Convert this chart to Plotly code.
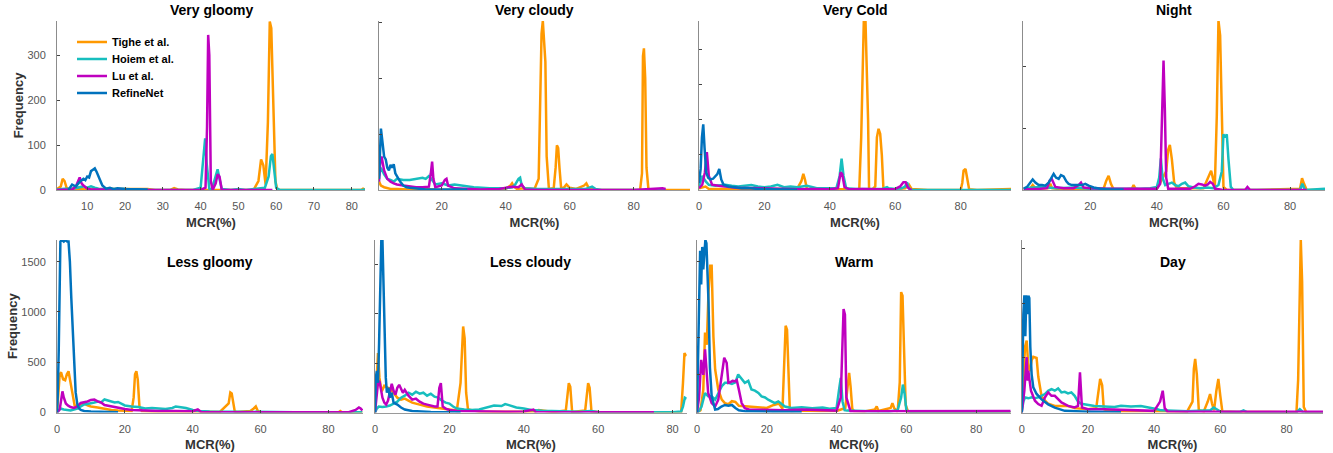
import plotly.graph_objects as go

W, H = 1333, 453

# ---------------- data (MCR %, frequency) ----------------
METHODS = ["Tighe et al.", "Hoiem et al.", "Lu et al.", "RefineNet"]
COLORS = ["#FF9900", "#17BEBE", "#BF00BF", "#0072BD"]
TITLES = ["Very gloomy", "Very cloudy", "Very Cold", "Night",
          "Less gloomy", "Less cloudy", "Warm", "Day"]

# Very gloomy
vg_tighe_x = [2, 3, 3.5, 4, 4.5, 5, 7, 10, 15, 20, 22, 26, 28, 32, 33, 34, 36, 54, 55.3, 56, 56.6, 57.2, 57.8, 58.3, 58.7, 59.2, 59.8, 60.3, 62, 82.5, 83, 83.5]
vg_tighe_y = [2, 8, 25, 20, 6, 2, 3, 1, 2, 2, 3, 2, 0, 0, 4, 1, 0, 0, 20, 68, 55, 12, 150, 375, 360, 180, 20, 0, 0, 0, 3, 1]
vg_hoiem_x = [2, 4, 6, 8, 9, 10, 11, 12, 13, 15, 18, 20, 26, 38, 40, 40.7, 41.2, 41.6, 42.3, 43, 44, 44.5, 45, 45.6, 48, 50, 52, 55, 57, 58, 58.6, 59, 59.5, 60, 61, 83, 83.5]
vg_hoiem_y = [1, 3, 3, 6, 8, 5, 8, 5, 3, 2, 2, 2, 0, 0, 5, 60, 115, 60, 3, 2, 30, 46, 25, 2, 0, 2, 0, 2, 5, 30, 75, 80, 40, 5, 0, 0, 2]
vg_lu_x = [2, 6, 7, 7.5, 8, 8.5, 9, 10, 11, 15, 20, 30, 40, 41.3, 41.7, 42, 42.3, 42.7, 43.2, 44, 44.5, 45, 45.6, 50, 59]
vg_lu_y = [0, 1, 8, 20, 28, 15, 10, 3, 1, 1, 0, 0, 0, 5, 140, 345, 300, 20, 0, 15, 35, 30, 0, 0, 0]
vg_refine_x = [5, 6, 6.5, 7, 8, 9, 9.5, 10, 10.5, 11, 11.5, 12, 12.5, 13, 13.5, 14, 15, 16, 17, 18, 20, 22, 24, 26]
vg_refine_y = [0, 12, 10, 8, 18, 25, 22, 30, 28, 42, 45, 48, 40, 30, 18, 10, 3, 5, 2, 4, 2, 2, 1, 1]

# Very cloudy
vc_tighe_x = [0.4, 1, 2, 3, 4, 6, 10, 15, 20, 30, 40, 41.5, 42, 42.6, 43.5, 46, 49, 50.3, 50.8, 51.2, 51.6, 52, 52.4, 52.8, 53.5, 55, 55.6, 56, 56.4, 56.8, 57.3, 58, 59, 60, 62, 64.5, 65.2, 66, 68, 82, 82.6, 82.9, 83.2, 83.6, 84, 84.6, 86, 97.6]
vc_tighe_y = [15, 8, 5, 3, 2, 2, 1, 2, 0, 1, 2, 8, 12, 6, 2, 3, 2, 20, 150, 280, 303, 260, 230, 60, 2, 3, 40, 80, 75, 40, 5, 3, 10, 4, 2, 8, 12, 3, 0, 0, 30, 240, 254, 200, 40, 2, 0, 0]
vc_hoiem_x = [0.4, 1, 2, 3, 4, 5, 6, 8, 10, 12, 14, 15, 16, 17, 18, 20, 22, 24, 26, 28, 30, 35, 40, 42, 43, 44, 44.5, 45, 46, 50, 55, 60, 65, 67, 68, 70, 90]
vc_hoiem_y = [25, 40, 28, 20, 18, 15, 20, 18, 18, 20, 22, 20, 25, 18, 10, 12, 8, 10, 8, 6, 5, 3, 3, 5, 10, 20, 22, 8, 3, 2, 2, 3, 2, 6, 2, 0, 0]
vc_lu_x = [0.4, 0.8, 1.2, 2, 3, 4, 5, 6, 8, 10, 12, 14, 16, 16.6, 17, 17.4, 18, 20, 21, 21.5, 22, 24, 28, 32, 38, 40, 42, 44, 45, 46, 50, 60, 70, 80, 89, 90]
vc_lu_y = [15, 50, 60, 35, 20, 15, 12, 10, 8, 6, 5, 5, 6, 30, 51, 20, 5, 8, 18, 20, 8, 3, 2, 1, 2, 4, 6, 5, 10, 1, 0, 0, 0, 0, 3, 2]
vc_refine_x = [0.4, 0.7, 1, 1.3, 1.7, 2, 2.5, 3, 3.5, 4, 4.5, 5, 5.5, 6, 7, 8, 9, 10, 12, 15, 20, 28]
vc_refine_y = [20, 80, 110, 95, 70, 60, 55, 40, 35, 45, 40, 46, 30, 25, 15, 8, 5, 4, 3, 1, 1, 1]

# Very Cold
vco_tighe_x = [0, 1, 2, 3, 5, 10, 20, 30, 31.3, 31.9, 32.4, 33, 35, 40, 49, 49.6, 50, 50.4, 50.9, 51.4, 51.7, 52, 53, 53.9, 54.4, 54.9, 55.4, 55.9, 56.4, 60, 63, 64.2, 65, 70, 80, 80.5, 80.9, 81.5, 82, 82.6, 85, 95.4]
vco_tighe_y = [5, 8, 10, 3, 3, 2, 2, 3, 25, 46, 30, 3, 2, 2, 2, 150, 300, 484, 484, 312, 200, 3, 2, 10, 150, 174, 160, 100, 3, 2, 5, 15, 3, 0, 0, 20, 55, 60, 30, 2, 0, 3]
vco_hoiem_x = [0, 1, 2, 3, 5, 8, 10, 12, 14, 16, 18, 20, 22, 24, 26, 28, 30, 33, 36, 40, 42, 43, 43.6, 44.2, 45, 48, 52, 56, 57.5, 58, 60, 62, 63, 63.6, 64.2, 65, 95.4]
vco_hoiem_y = [10, 40, 25, 15, 12, 15, 12, 10, 12, 14, 10, 8, 10, 15, 8, 10, 8, 12, 5, 4, 5, 40, 89, 40, 5, 3, 3, 3, 8, 5, 3, 5, 10, 22, 5, 0, 0]
vco_lu_x = [0, 1, 1.8, 2.4, 3, 4, 6, 8, 10, 12, 15, 18, 20, 25, 30, 35, 40, 42.5, 43.3, 43.8, 44.5, 46, 50, 55, 60, 61.5, 62.5, 63.2, 63.8, 64.5, 65]
vco_lu_y = [5, 15, 50, 108, 40, 15, 12, 10, 8, 6, 6, 5, 4, 4, 2, 3, 2, 5, 50, 45, 8, 2, 3, 2, 3, 10, 22, 22, 8, 2, 0]
vco_refine_x = [0, 0.5, 0.9, 1.3, 1.7, 2.2, 2.8, 3.5, 4.3, 5, 5.6, 6.2, 6.8, 7.5, 9, 11, 13, 15, 18, 22, 26, 30]
vco_refine_y = [20, 60, 150, 187, 120, 50, 35, 30, 32, 38, 45, 60, 30, 15, 10, 8, 5, 6, 3, 2, 2, 1]

# Night
n_tighe_x = [0, 2, 2.7, 3.5, 5, 7.5, 8, 8.5, 10, 15, 20, 24, 24.8, 25.5, 26.2, 27, 30, 32.5, 33, 33.6, 35, 40, 42.8, 43.4, 43.9, 44.5, 45.2, 46, 50, 54, 55.8, 56.3, 56.8, 57.4, 58, 58.5, 59, 59.5, 60, 61, 70, 83, 83.6, 84.2, 85, 90.5]
n_tighe_y = [2, 3, 8, 3, 2, 3, 10, 3, 2, 2, 1, 2, 15, 23, 10, 1, 1, 2, 8, 2, 1, 2, 30, 65, 73, 50, 12, 3, 3, 3, 25, 31, 20, 5, 120, 274, 250, 100, 5, 0, 0, 2, 19, 10, 0, 0]
n_hoiem_x = [0, 2, 5, 10, 15, 20, 25, 30, 35, 38, 40, 40.7, 41.2, 41.7, 42.5, 43.5, 44.5, 45.5, 46.5, 47.5, 48.5, 49.5, 51, 53, 55, 57, 58.5, 59.5, 60, 60.5, 61, 61.5, 62.2, 63, 70, 83, 83.7, 84.5, 90.5]
n_hoiem_y = [3, 4, 5, 3, 4, 2, 2, 1, 2, 3, 5, 20, 51, 20, 8, 10, 12, 8, 6, 10, 12, 6, 4, 3, 4, 3, 8, 30, 90, 85, 90, 50, 5, 0, 0, 0, 10, 0, 2]
n_lu_x = [0, 3, 5, 7, 7.8, 8.5, 9.5, 12, 15, 16.5, 17.2, 18, 20, 25, 30, 35, 40, 41, 41.6, 42, 42.4, 42.8, 43.4, 45, 48, 50, 51.5, 52.5, 53.5, 54.5, 55.3, 56, 56.8, 57.5, 60, 66.5, 67.2, 68, 75, 85]
n_lu_y = [1, 1, 2, 3, 15, 17, 5, 3, 3, 8, 12, 4, 3, 2, 2, 1, 2, 10, 120, 209, 130, 20, 2, 2, 1, 2, 6, 10, 9, 7, 9, 13, 10, 2, 0, 0, 5, 0, 0, 0]
n_refine_x = [0, 1, 2, 2.7, 3.5, 4.5, 5.5, 6.5, 7.5, 8.3, 9, 9.7, 10.5, 11.2, 12, 12.8, 13.5, 14.5, 15.5, 16.5, 17.5, 18.5, 19.5, 21, 23, 26, 30]
n_refine_y = [2, 5, 12, 17, 12, 8, 8, 7, 12, 20, 26, 20, 18, 24, 22, 14, 10, 8, 8, 9, 8, 10, 7, 4, 2, 1, 1]

# Less gloomy
lg_tighe_x = [0, 0.4, 0.8, 1.2, 1.8, 2.4, 2.9, 3.4, 3.9, 4.5, 5.2, 6, 7, 8, 9, 10, 12, 14, 16, 18, 20, 22, 22.6, 23, 23.4, 23.8, 24.3, 25, 28, 32, 36, 40, 44, 48, 50.6, 51.1, 51.5, 51.9, 52.4, 53, 56, 57, 58, 58.6, 59.2, 60, 65, 75, 83, 83.5, 84, 90]
lg_tighe_y = [0, 150, 380, 400, 330, 320, 380, 410, 330, 200, 70, 60, 80, 90, 70, 60, 50, 35, 25, 20, 20, 15, 150, 380, 410, 330, 60, 15, 10, 12, 8, 10, 8, 5, 90, 200, 190, 100, 10, 5, 10, 15, 40, 60, 15, 5, 3, 2, 3, 15, 2, 2]
lg_hoiem_x = [0, 0.5, 1, 2, 3, 4, 5, 6, 7, 8, 9, 10, 11, 12, 13, 14, 15, 16, 17, 18, 19, 20, 22, 24, 26, 28, 30, 32, 34, 35, 36, 38, 40, 42, 45, 50, 55, 60, 70, 80, 90]
lg_hoiem_y = [0, 20, 40, 30, 25, 20, 30, 40, 60, 80, 85, 90, 100, 110, 100, 130, 120, 110, 100, 105, 90, 70, 60, 55, 40, 45, 40, 35, 45, 60, 55, 45, 25, 15, 10, 8, 5, 4, 3, 2, 2]
lg_lu_x = [0, 0.8, 1.2, 1.6, 2, 2.6, 3.2, 4, 5, 6, 7, 8, 9, 10, 11, 12, 13, 14, 16, 18, 20, 22, 25, 28, 30, 35, 40, 41.5, 42, 42.5, 45, 50, 60, 70, 80, 86, 88, 89, 89.5, 90]
lg_lu_y = [0, 30, 120, 210, 150, 90, 70, 55, 45, 60, 95, 100, 110, 125, 130, 110, 100, 75, 60, 45, 35, 25, 20, 18, 15, 15, 12, 30, 20, 5, 3, 3, 2, 2, 3, 3, 25, 50, 40, 20]
lg_refine_x = [0, 0.2, 0.5, 0.8, 1.0, 1.5, 2, 2.5, 3, 3.4, 3.8, 4.2, 4.6, 5, 5.5, 6, 6.5, 7, 8, 10, 12, 15, 18]
lg_refine_y = [0, 150, 600, 1200, 1700, 1716, 1700, 1716, 1700, 1700, 1500, 1150, 800, 450, 200, 80, 40, 25, 15, 10, 8, 5, 3]

# Less cloudy
lc_tighe_x = [0, 0.3, 0.8, 1.2, 1.6, 2, 2.5, 3, 3.5, 4, 5, 6, 7, 8, 9, 10, 12, 14, 16, 18, 20, 22, 23, 23.4, 23.7, 24.1, 24.5, 25, 28, 32, 36, 40, 43, 44, 48, 51.3, 51.7, 52.1, 52.5, 53, 56.5, 56.9, 57.3, 57.7, 58.2, 60, 65, 70, 82.3, 82.8, 83.2, 83.5, 83.8]
lc_tighe_y = [0, 300, 600, 350, 250, 230, 270, 260, 250, 240, 200, 150, 130, 140, 120, 100, 80, 60, 50, 40, 30, 20, 300, 700, 870, 750, 200, 30, 10, 8, 10, 10, 10, 25, 5, 20, 200, 296, 260, 5, 20, 200, 296, 250, 10, 5, 3, 2, 3, 300, 600, 580, 590]
lc_hoiem_x = [0, 0.5, 1, 2, 3, 4, 5, 6, 7, 8, 9, 10, 11, 12, 13, 14, 15, 16, 17, 18, 19, 20, 21, 22, 24, 26, 28, 30, 32, 34, 35, 36, 38, 40, 42, 45, 50, 55, 58, 60, 62, 70, 80, 82.3, 82.8, 83.3, 83.8]
lc_hoiem_y = [0, 40, 60, 55, 60, 70, 90, 110, 150, 170, 200, 180, 210, 190, 200, 170, 190, 160, 150, 120, 100, 90, 60, 40, 30, 25, 30, 50, 70, 65, 85, 75, 50, 40, 25, 18, 12, 8, 15, 5, 3, 2, 2, 10, 60, 150, 140]
lc_lu_x = [0, 0.4, 0.8, 1.2, 1.6, 2, 2.5, 3, 3.5, 4, 4.5, 5, 5.5, 6, 6.5, 7, 7.5, 8, 9, 10, 11, 12, 13, 14, 15, 16, 16.8, 17.3, 17.7, 18.2, 19, 20, 22, 25, 30, 35, 40, 42, 42.6, 43.2, 45, 50, 60, 75]
lc_lu_y = [0, 150, 300, 320, 250, 150, 100, 80, 120, 200, 290, 220, 180, 250, 280, 240, 200, 230, 170, 130, 140, 110, 90, 80, 70, 60, 60, 250, 296, 60, 40, 25, 15, 12, 10, 8, 10, 20, 30, 5, 3, 2, 2, 3]
lc_refine_x = [0, 0.2, 0.5, 0.8, 1.1, 1.4, 1.7, 2.0, 2.3, 2.6, 2.9, 3.2, 3.6, 4, 4.5, 5, 6, 7, 8, 10, 12, 15, 20, 23]
lc_refine_y = [0, 350, 420, 300, 700, 1200, 1744, 1744, 1300, 700, 350, 200, 250, 150, 200, 100, 80, 50, 30, 15, 10, 5, 3, 2]

# Warm
w_tighe_x = [0, 1, 1.8, 2.3, 2.8, 3.3, 3.8, 4.2, 4.7, 5.2, 6.1, 7.1, 8, 9, 10, 11, 12, 14, 16, 18, 20, 22, 23.5, 24.5, 25, 25.4, 25.8, 26.2, 26.6, 27, 30, 35, 40, 42.5, 43.2, 43.6, 44, 44.5, 45, 48, 51, 51.5, 52, 55.5, 56, 56.5, 57.5, 58.1, 58.5, 58.9, 59.3, 59.8, 60.5, 65, 75, 89.9]
w_tighe_y = [0, 30, 300, 1063, 900, 1600, 1950, 1950, 1013, 572, 304, 170, 125, 110, 150, 140, 90, 80, 70, 60, 60, 100, 120, 50, 600, 1153, 1100, 400, 40, 20, 25, 20, 20, 60, 400, 527, 350, 50, 20, 15, 40, 80, 20, 60, 125, 60, 10, 400, 1600, 1550, 900, 100, 8, 5, 4, 3]
w_hoiem_x = [0, 0.6, 1.3, 2.3, 3.2, 4.2, 5.2, 6.1, 7.1, 8, 9, 10, 11, 11.8, 12.8, 13.7, 14.7, 15.6, 16.6, 17.6, 18.5, 19.5, 20.4, 21.4, 22.3, 23.3, 24.2, 25.2, 27, 30, 33, 36, 38, 40, 40.7, 41.2, 41.7, 42.3, 43, 45, 50, 55, 57.5, 58.5, 59, 59.5, 60, 61, 70, 89.9]
w_hoiem_y = [0, 20, 80, 259, 215, 215, 170, 260, 349, 394, 394, 380, 400, 505, 438, 394, 420, 305, 290, 259, 215, 200, 170, 150, 125, 148, 120, 80, 60, 70, 55, 65, 50, 60, 300, 460, 150, 30, 25, 20, 15, 12, 30, 200, 371, 250, 30, 5, 3, 3]
w_lu_x = [0, 0.6, 1.2, 1.8, 2.3, 2.8, 3.2, 4.2, 5.2, 6.1, 7.1, 7.8, 8.5, 9, 9.5, 10.2, 11, 11.4, 12, 12.8, 13.7, 15, 18, 22, 25, 30, 35, 40, 41.2, 41.7, 42, 42.4, 42.8, 44, 50, 60, 70, 80, 89.9]
w_lu_y = [0, 200, 700, 500, 840, 483, 259, 125, 80, 170, 483, 728, 661, 394, 400, 420, 416, 430, 304, 125, 58, 36, 36, 30, 30, 40, 30, 25, 200, 900, 1376, 1300, 200, 15, 15, 12, 12, 12, 20]
w_refine_x = [0, 0.3, 0.6, 0.9, 1.2, 1.5, 1.8, 2.1, 2.4, 2.7, 3.0, 3.3, 3.7, 4.2, 5.2, 6, 7, 8, 9, 10, 11, 12, 14, 20, 30]
w_refine_y = [0, 600, 1500, 2150, 1700, 2200, 1900, 2150, 2292, 2250, 1900, 1465, 600, 215, 40, 45, 80, 100, 90, 100, 60, 30, 15, 10, 5]

# Day
d_tighe_x = [0, 0.5, 1, 1.5, 2, 2.5, 3, 3.5, 4.5, 5, 5.5, 6, 7, 8, 10, 14, 16, 20, 22.5, 23.1, 23.7, 24.3, 24.8, 26, 30, 40, 50, 51.6, 52, 52.4, 52.9, 53.5, 55, 56.2, 56.9, 57.5, 58.1, 58.8, 59.4, 60, 60.6, 65, 75, 83, 83.5, 84, 84.3, 84.7, 85.2, 86, 91]
d_tighe_y = [0, 300, 600, 660, 420, 380, 480, 510, 500, 330, 230, 150, 110, 80, 60, 60, 40, 30, 40, 200, 307, 250, 30, 15, 12, 12, 10, 100, 400, 491, 350, 20, 10, 100, 169, 80, 20, 200, 307, 150, 10, 5, 3, 3, 300, 1300, 1581, 1200, 50, 0, 0]
d_hoiem_x = [0, 0.5, 1, 2, 3, 4, 5, 6, 7, 8, 9, 10, 11, 12, 13, 14, 15, 16, 17, 18, 20, 22, 25, 28, 30, 33, 36, 39, 41, 42, 44, 46, 50, 55, 57, 58, 59, 60, 63, 66, 67, 68, 75, 83, 84, 85, 91]
d_hoiem_y = [0, 100, 138, 130, 140, 130, 138, 150, 169, 199, 215, 200, 220, 184, 190, 175, 184, 153, 100, 80, 70, 60, 55, 50, 61, 55, 60, 45, 30, 20, 15, 15, 12, 15, 20, 46, 30, 8, 5, 5, 20, 3, 2, 2, 30, 2, 2]
d_lu_x = [0, 0.8, 1.5, 1.8, 2, 2.8, 4, 5, 6, 7, 8, 9, 10, 11, 12, 14, 16, 17, 17.6, 18.2, 19, 20, 25, 30, 35, 40, 41.8, 42.6, 43.2, 44, 50, 60, 70, 80, 90, 91]
d_lu_y = [0, 200, 507, 292, 384, 199, 108, 77, 61, 138, 184, 153, 153, 123, 92, 61, 46, 60, 368, 46, 40, 30, 30, 25, 20, 15, 100, 200, 40, 10, 8, 8, 8, 8, 10, 8]
d_refine_x = [0, 0.2, 0.5, 0.8, 1.1, 1.4, 1.7, 2, 2.3, 2.6, 3, 3.5, 4.5, 6, 8, 10, 13, 20, 30]
d_refine_y = [0, 600, 900, 1075, 700, 1075, 900, 1070, 1050, 600, 350, 230, 170, 120, 75, 45, 15, 8, 3]

PANEL_SERIES = [
    [(vg_tighe_x, vg_tighe_y), (vg_hoiem_x, vg_hoiem_y), (vg_lu_x, vg_lu_y), (vg_refine_x, vg_refine_y)],
    [(vc_tighe_x, vc_tighe_y), (vc_hoiem_x, vc_hoiem_y), (vc_lu_x, vc_lu_y), (vc_refine_x, vc_refine_y)],
    [(vco_tighe_x, vco_tighe_y), (vco_hoiem_x, vco_hoiem_y), (vco_lu_x, vco_lu_y), (vco_refine_x, vco_refine_y)],
    [(n_tighe_x, n_tighe_y), (n_hoiem_x, n_hoiem_y), (n_lu_x, n_lu_y), (n_refine_x, n_refine_y)],
    [(lg_tighe_x, lg_tighe_y), (lg_hoiem_x, lg_hoiem_y), (lg_lu_x, lg_lu_y), (lg_refine_x, lg_refine_y)],
    [(lc_tighe_x, lc_tighe_y), (lc_hoiem_x, lc_hoiem_y), (lc_lu_x, lc_lu_y), (lc_refine_x, lc_refine_y)],
    [(w_tighe_x, w_tighe_y), (w_hoiem_x, w_hoiem_y), (w_lu_x, w_lu_y), (w_refine_x, w_refine_y)],
    [(d_tighe_x, d_tighe_y), (d_hoiem_x, d_hoiem_y), (d_lu_x, d_lu_y), (d_refine_x, d_refine_y)],
]

# axis ranges and ticks per panel
X_RANGES = [[2, 83.5], [0.4, 97.6], [0, 95.4], [-0.3, 90.5],
            [0, 90.2], [0, 83.8], [0, 89.9], [0, 91.1]]
X_TICKS = [[10, 20, 30, 40, 50, 60, 70, 80], [20, 40, 60, 80], [0, 20, 40, 60, 80], [20, 40, 60, 80],
           [0, 20, 40, 60, 80], [0, 20, 40, 60, 80], [0, 20, 40, 60, 80], [0, 20, 40, 60, 80]]
Y_RANGES = [[0, 376], [0, 303], [0, 481], [0, 273],
            [0, 1716], [0, 1744], [0, 2292], [0, 1581]]
Y_TICKS = [[0, 100, 200, 300], [100, 200, 300], [100, 200, 300, 400], [100, 200],
           [0, 500, 1000, 1500], [500, 1000, 1500], [500, 1000, 1500, 2000], [500, 1000, 1500]]

# ---------------- layout (pixel geometry) ----------------
X_PX = [(57, 365), (379, 690), (699, 1011), (1022.7, 1325),
        (57, 363), (375, 686.7), (697, 1010.7), (1021.7, 1323.3)]
ROW_PX = [(21, 190), (240, 412.5)]
LEGEND_Y_PX = [42, 59, 76, 93]

FONT = "Liberation Sans, Arial, sans-serif"

fig = go.Figure()
layout = dict(
    width=W, height=H, margin=dict(l=0, r=0, t=0, b=0, autoexpand=False),
    paper_bgcolor="white", plot_bgcolor="white",
    font=dict(family=FONT, size=11, color="#333333"),
    showlegend=True,
)
for k in range(4):
    lname = "legend" if k == 0 else "legend%d" % (k + 1)
    layout[lname] = dict(x=72 / W, y=1 - LEGEND_Y_PX[k] / H, xanchor="left", yanchor="middle",
                         bgcolor="rgba(255,255,255,0)", borderwidth=0,
                         font=dict(size=11, color="#000000", family=FONT),
                         itemwidth=30, tracegroupgap=0)

annotations = []
for i in range(8):
    row = 0 if i < 4 else 1
    xs = "" if i == 0 else str(i + 1)
    x0, x1 = X_PX[i]
    top, bot = ROW_PX[row]
    xa = dict(domain=[x0 / W, x1 / W], anchor="y" + xs, range=X_RANGES[i], automargin=False,
              tickvals=X_TICKS[i], ticks="inside", ticklen=3, tickcolor="#444444",
              showline=True, linecolor="#9a9a9a", linewidth=1, showgrid=False, zeroline=False,
              tickfont=dict(size=11, color="#555555"), ticklabelstandoff=6,
              title=dict(text="<b>MCR(%)</b>", font=dict(size=13, color="#333333"), standoff=6))
    ya = dict(domain=[1 - bot / H, 1 - top / H], anchor="x" + xs, range=Y_RANGES[i], automargin=False,
              tickvals=Y_TICKS[i], ticks="inside", ticklen=3, tickcolor="#444444",
              showline=True, linecolor="#8c8c8c", linewidth=1, showgrid=False, zeroline=False,
              tickfont=dict(size=11, color="#555555"), showticklabels=(i % 4 == 0),
              ticklabelstandoff=8)
    if i % 4 == 0:
        ya["title"] = dict(text="<b>Frequency</b>", font=dict(size=13, color="#333333"), standoff=0)
    layout["xaxis" + xs] = xa
    layout["yaxis" + xs] = ya

    for k, (sx, sy) in enumerate(PANEL_SERIES[i]):
        fig.add_trace(go.Scatter(
            x=sx, y=sy, mode="lines", name="<b>" + METHODS[k] + "</b>",
            line=dict(color=COLORS[k], width=2.5),
            xaxis="x" + xs, yaxis="y" + xs,
            showlegend=(i == 0),
            legend=("legend" if k == 0 else "legend%d" % (k + 1)),
        ))

    ty = 10 if row == 0 else 262
    annotations.append(dict(
        text="<b>" + TITLES[i] + "</b>", x=(x0 + x1) / 2 / W, y=1 - ty / H,
        xref="paper", yref="paper", xanchor="center", yanchor="middle",
        showarrow=False, font=dict(size=14, color="#000000", family=FONT)))

layout["annotations"] = annotations
fig.update_layout(**layout)
fig.write_html("out.html", config={"displayModeBar": False},
               post_script="document.body.style.margin='0px';")
